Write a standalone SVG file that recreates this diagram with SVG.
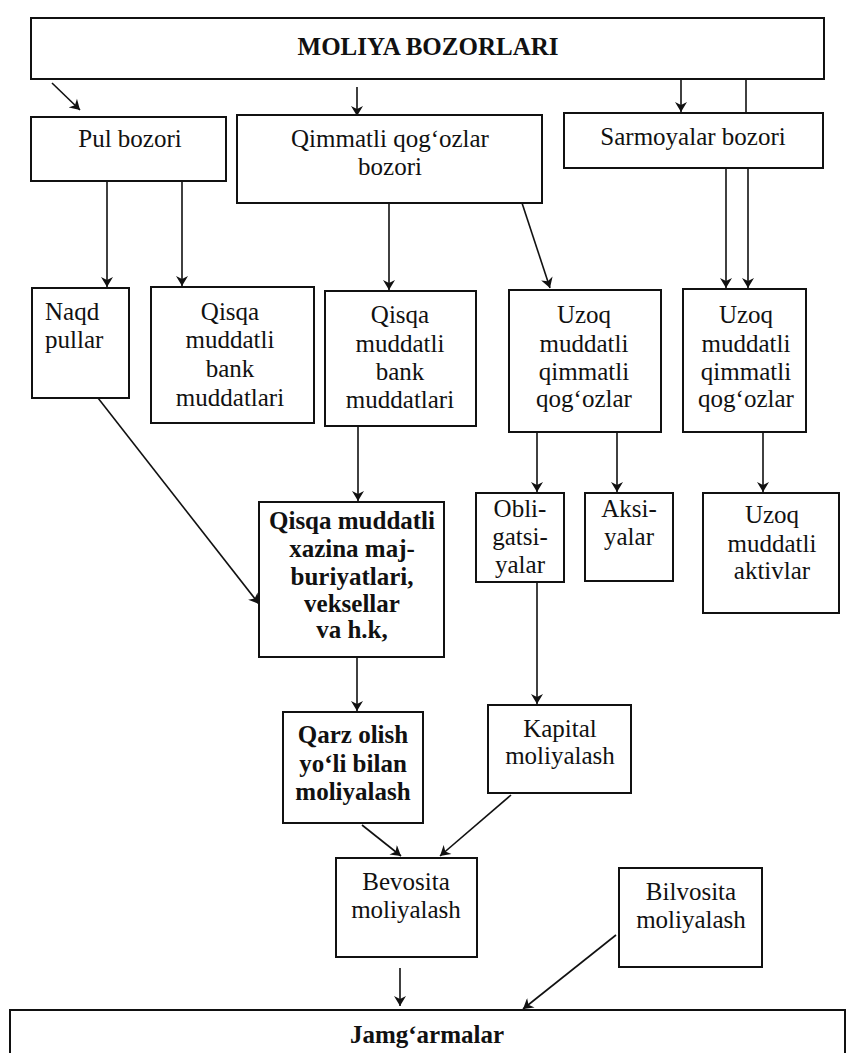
<svg xmlns="http://www.w3.org/2000/svg" width="847" height="1053" viewBox="0 0 847 1053">
<style>
.box{fill:#fff;stroke:#111;stroke-width:2}
.t{font-family:"Liberation Serif","Times New Roman",serif;font-size:25px;fill:#111;text-anchor:middle}
.b{font-weight:bold}
.l{text-anchor:start}
.c{stroke:#111;stroke-width:1.6;fill:none}
.cb{marker-end:url(#bg)}
</style>
<defs>
<marker id="bg" viewBox="0 0 10 12" refX="10" refY="6" markerWidth="11" markerHeight="12" markerUnits="userSpaceOnUse" orient="auto">
<path d="M0,0 L10,6 L0,12 L3,6 Z" fill="#111"/>
</marker>
</defs>
<rect width="847" height="1053" fill="#fff"/>
<g id="connectors">
<line class="c cb" x1="52" y1="83" x2="80" y2="110"/>
<line class="c cb" x1="357" y1="87" x2="357" y2="116"/>
<line class="c cb" x1="681" y1="79" x2="681" y2="112"/>
<line class="c" x1="746" y1="79" x2="746" y2="113"/>
<line class="c cb" x1="107" y1="181" x2="107" y2="287"/>
<line class="c cb" x1="182" y1="181" x2="182" y2="286"/>
<line class="c cb" x1="389" y1="203" x2="389" y2="290"/>
<line class="c cb" x1="522" y1="203" x2="550" y2="288"/>
<line class="c cb" x1="726" y1="168" x2="726" y2="288"/>
<line class="c cb" x1="748" y1="168" x2="748" y2="288"/>
<line class="c cb" x1="358" y1="426" x2="358" y2="501"/>
<line class="c cb" x1="537" y1="432" x2="537" y2="492"/>
<line class="c cb" x1="617" y1="432" x2="617" y2="492"/>
<line class="c cb" x1="763" y1="432" x2="763" y2="492"/>
<line class="c cb" x1="98" y1="398" x2="259" y2="604"/>
<line class="c cb" x1="357" y1="657" x2="357" y2="711"/>
<line class="c cb" x1="537" y1="583" x2="537" y2="704"/>
<line class="c cb" x1="362" y1="825" x2="401" y2="856"/>
<line class="c cb" x1="511" y1="795" x2="440" y2="856"/>
<line class="c cb" x1="400" y1="968" x2="400" y2="1006"/>
<line class="c cb" x1="616" y1="935" x2="523" y2="1009"/>
</g>
<g id="moliya-bozorlari">
<rect class="box" x="31" y="18" width="793" height="61"/>
<text class="t b" x="428" y="55">MOLIYA BOZORLARI</text>
</g>
<g id="pul-bozori">
<rect class="box" x="31" y="117" width="195" height="64"/>
<text class="t" x="130" y="147">Pul bozori</text>
</g>
<g id="qimmatli-bozori">
<rect class="box" x="237" y="115" width="305" height="88"/>
<text class="t" x="390" y="147">Qimmatli qog‘ozlar</text>
<text class="t" x="390" y="175">bozori</text>
</g>
<g id="sarmoyalar-bozori">
<rect class="box" x="564" y="113" width="259" height="55"/>
<text class="t" x="693" y="145">Sarmoyalar bozori</text>
</g>
<g id="naqd-pullar">
<rect class="box" x="32" y="288" width="97" height="110"/>
<text class="t l" x="45" y="320">Naqd</text>
<text class="t l" x="45" y="348">pullar</text>
</g>
<g id="qisqa-bank-1">
<rect class="box" x="151" y="287" width="163" height="136"/>
<text class="t" x="230" y="320">Qisqa</text>
<text class="t" x="230" y="348">muddatli</text>
<text class="t" x="230" y="377">bank</text>
<text class="t" x="230" y="406">muddatlari</text>
</g>
<g id="qisqa-bank-2">
<rect class="box" x="325" y="291" width="151" height="135"/>
<text class="t" x="400" y="323">Qisqa</text>
<text class="t" x="400" y="352">muddatli</text>
<text class="t" x="400" y="380">bank</text>
<text class="t" x="400" y="408">muddatlari</text>
</g>
<g id="uzoq-qimmatli-1">
<rect class="box" x="509" y="290" width="152" height="142"/>
<text class="t" x="584" y="323">Uzoq</text>
<text class="t" x="584" y="352">muddatli</text>
<text class="t" x="584" y="380">qimmatli</text>
<text class="t" x="584" y="407">qog‘ozlar</text>
</g>
<g id="uzoq-qimmatli-2">
<rect class="box" x="683" y="289" width="123" height="143"/>
<text class="t" x="746" y="323">Uzoq</text>
<text class="t" x="746" y="352">muddatli</text>
<text class="t" x="746" y="380">qimmatli</text>
<text class="t" x="746" y="407">qog‘ozlar</text>
</g>
<g id="xazina">
<rect class="box" x="259" y="502" width="185" height="155"/>
<text class="t b" x="352" y="529">Qisqa muddatli</text>
<text class="t b" x="352" y="557">xazina maj-</text>
<text class="t b" x="352" y="585">buriyatlari,</text>
<text class="t b" x="352" y="612">veksellar</text>
<text class="t b" x="352" y="638">va h.k,</text>
</g>
<g id="obligatsiyalar">
<rect class="box" x="476" y="493" width="88" height="89"/>
<text class="t" x="520" y="517">Obli-</text>
<text class="t" x="520" y="545">gatsi-</text>
<text class="t" x="520" y="573">yalar</text>
</g>
<g id="aksiyalar">
<rect class="box" x="585" y="493" width="88" height="88"/>
<text class="t" x="629" y="517">Aksi-</text>
<text class="t" x="629" y="545">yalar</text>
</g>
<g id="uzoq-aktivlar">
<rect class="box" x="703" y="493" width="136" height="120"/>
<text class="t" x="772" y="523">Uzoq</text>
<text class="t" x="772" y="552">muddatli</text>
<text class="t" x="772" y="579">aktivlar</text>
</g>
<g id="qarz-olish">
<rect class="box" x="283" y="712" width="140" height="111"/>
<text class="t b" x="353" y="743">Qarz olish</text>
<text class="t b" x="353" y="772">yo‘li bilan</text>
<text class="t b" x="353" y="800">moliyalash</text>
</g>
<g id="kapital">
<rect class="box" x="488" y="705" width="143" height="88"/>
<text class="t" x="560" y="737">Kapital</text>
<text class="t" x="560" y="764">moliyalash</text>
</g>
<g id="bevosita">
<rect class="box" x="336" y="858" width="141" height="99"/>
<text class="t" x="406" y="890">Bevosita</text>
<text class="t" x="406" y="918">moliyalash</text>
</g>
<g id="bilvosita">
<rect class="box" x="619" y="868" width="143" height="99"/>
<text class="t" x="691" y="900">Bilvosita</text>
<text class="t" x="691" y="928">moliyalash</text>
</g>
<g id="jamgarmalar">
<rect class="box" x="10" y="1010" width="835" height="60"/>
<text class="t b" x="427" y="1043">Jamg‘armalar</text>
</g>
</svg>
